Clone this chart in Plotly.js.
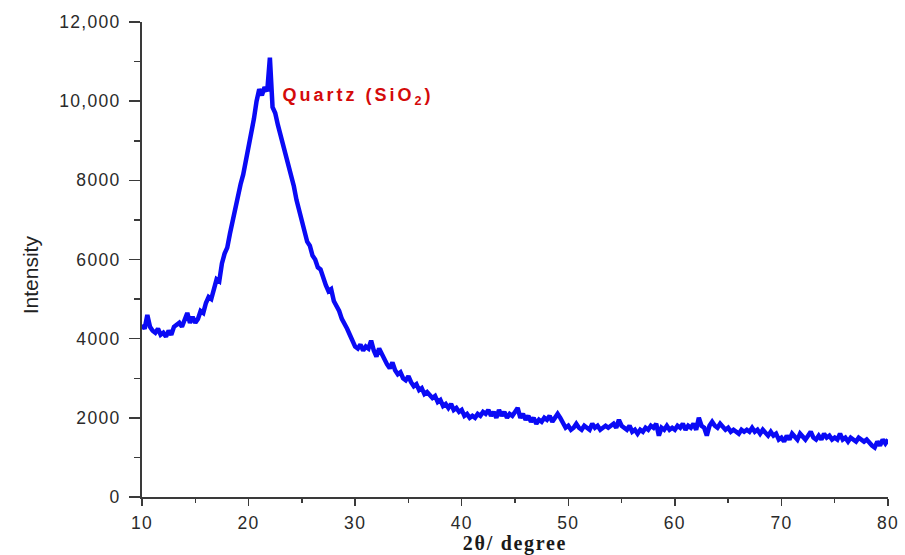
<!DOCTYPE html>
<html>
<head>
<meta charset="utf-8">
<script src="https://cdn.plot.ly/plotly-3.0.1.min.js"></script>
<style>
html,body{margin:0;padding:0;background:#fff;}
#chart{width:905px;height:555px;}
#chart .xtick text, #chart .ytick text{letter-spacing:1.3px;}
#chart g.annotation[data-index="1"] text{letter-spacing:3px;}
#chart .g-xtitle text{letter-spacing:1.7px;}
</style>
</head>
<body>
<div id="chart"></div>
<script>
// 2θ grid: first angle and spacing (degrees)
const startAngle = 10;
const stepAngle = 0.25;

const intensity = [
  4350,4250,4600,4300,4200,4150,4250,4100,4150,4050, // 10.00-12.25
  4200,4100,4300,4350,4400,4300,4500,4650,4400,4550, // 12.50-14.75
  4400,4500,4700,4650,4900,5050,5000,5300,5500,5450, // 15.00-17.25
  5900,6150,6300,6650,7000,7300,7550,7900,8150,8500, // 17.50-19.75
  8800,9200,9550,10000,10300,10150,10350,10250,11100,9850, // 20.00-22.25
  9700,9400,9150,8900,8650,8300,8100,7850,7500,7250, // 22.50-24.75
  6950,6800,6450,6350,6100,6000,5800,5750,5500,5350, // 25.00-27.25
  5200,5250,4950,4850,4700,4500,4400,4250,4100,3950, // 27.50-29.75
  3800,3750,3850,3700,3800,3750,3950,3700,3550,3750, // 30.00-32.25
  3600,3450,3350,3250,3400,3200,3100,3150,3000,2950, // 32.50-34.75
  3050,2900,2800,2850,2700,2750,2600,2650,2550,2500, // 35.00-37.25
  2550,2400,2450,2300,2350,2250,2350,2200,2250,2150, // 37.50-39.75
  2200,2050,2100,2000,2050,2000,2100,2050,2150,2100, // 40.00-42.25
  2200,2050,2150,2000,2200,2050,2150,2000,2100,2050, // 42.50-44.75
  2150,2250,2000,2100,1950,2050,1900,2000,1850,1950, // 45.00-47.25
  1900,2000,1950,2050,1900,2000,2100,2000,1850,1750, // 47.50-49.75
  1800,1700,1750,1850,1750,1700,1800,1750,1700,1850, // 50.00-52.25
  1750,1800,1700,1750,1800,1750,1800,1850,1750,1950, // 52.50-54.75
  1800,1750,1700,1800,1650,1700,1600,1700,1650,1750, // 55.00-57.25
  1700,1800,1750,1850,1550,1750,1700,1800,1700,1750, // 57.50-59.75
  1700,1800,1750,1850,1700,1800,1750,1850,1700,2000, // 60.00-62.25
  1800,1750,1550,1800,1900,1800,1750,1850,1750,1700, // 62.50-64.75
  1750,1650,1700,1650,1600,1700,1650,1700,1650,1750, // 65.00-67.25
  1650,1700,1600,1700,1600,1550,1650,1550,1600,1450, // 67.50-69.75
  1500,1400,1550,1450,1600,1500,1450,1600,1500,1450, // 70.00-72.25
  1550,1650,1500,1450,1550,1450,1600,1500,1550,1450, // 72.50-74.75
  1500,1450,1600,1450,1500,1400,1500,1450,1400,1500, // 75.00-77.25
  1450,1400,1450,1350,1300,1250,1400,1300,1450,1350, // 77.50-79.75
  1450                                               // 80.00
];

const yTickVals = [0, 2000, 4000, 6000, 8000, 10000, 12000];
const yTickText = ["0", "2000", "4000", "6000", "8000", "10,000", "12,000"];
const xTickVals = [10, 20, 30, 40, 50, 60, 70, 80];

const trace = {
  type: 'scatter',
  mode: 'lines',
  x0: startAngle,
  dx: stepAngle,
  y: intensity,
  line: {color: '#0a0af5', width: 4.5},
  hoverinfo: 'skip'
};

const axisColor = '#3a3a3a';
const tickFont = {family: 'Liberation Sans, Arial, sans-serif', size: 17.5, color: '#2a2a2a'};

const layout = {
  width: 905,
  height: 555,
  paper_bgcolor: '#ffffff',
  plot_bgcolor: '#ffffff',
  margin: {l: 142, r: 17, t: 22, b: 58},
  showlegend: false,
  xaxis: {
    range: [10, 80],
    tickvals: xTickVals,
    ticktext: xTickVals.map(String),
    ticks: 'outside',
    ticklen: 7,
    tickwidth: 1.5,
    tickcolor: axisColor,
    ticklabelstandoff: 2,
    showline: true,
    linecolor: axisColor,
    linewidth: 2,
    showgrid: false,
    zeroline: false,
    tickfont: tickFont,
    minor: {ticks: 'outside', dtick: 5, tick0: 5, ticklen: 4, tickwidth: 1.5, tickcolor: axisColor, showgrid: false},
    title: {text: '2θ/ degree', font: {family: 'Liberation Serif, Times New Roman, serif', size: 20, color: '#1a1a1a', weight: 'bold'}, standoff: 5}
  },
  yaxis: {
    range: [0, 12000],
    tickvals: yTickVals,
    ticktext: yTickText,
    ticks: 'outside',
    ticklen: 11,
    tickwidth: 1.5,
    tickcolor: axisColor,
    ticklabelstandoff: 5,
    showline: true,
    linecolor: axisColor,
    linewidth: 2,
    showgrid: false,
    zeroline: false,
    tickfont: tickFont,
    minor: {ticks: 'outside', dtick: 1000, tick0: 0, ticklen: 6, tickwidth: 1.5, tickcolor: axisColor, showgrid: false}
  },
  annotations: [
    {
      text: 'Intensity',
      xref: 'paper', yref: 'paper',
      x: -0.150, y: 0.467,
      xanchor: 'center', yanchor: 'middle',
      textangle: -90,
      showarrow: false,
      font: {family: 'Liberation Sans Narrow, Arial Narrow, Liberation Sans, sans-serif', size: 21, color: '#222'}
    },
    {
      text: '<b>Quartz (SiO<sub>2</sub>)</b>',
      xref: 'x', yref: 'y',
      x: 24.85, y: 10130,
      xanchor: 'left', yanchor: 'middle',
      showarrow: false,
      font: {family: 'Liberation Sans, Arial, sans-serif', size: 18, color: '#d40a0a'}
    }
  ]
};

Plotly.newPlot('chart', [trace], layout, {displayModeBar: false, staticPlot: true});
</script>
</body>
</html>
